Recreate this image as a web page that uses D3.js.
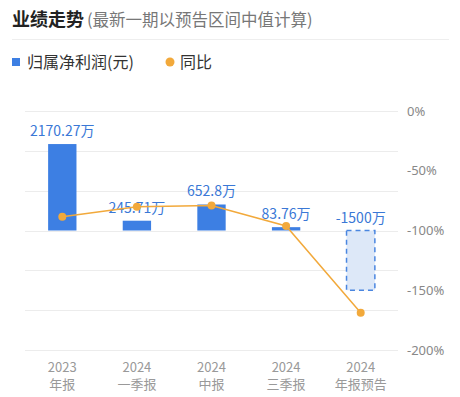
<!DOCTYPE html>
<html>
  <head>
    <meta charset="utf-8">
    <title>业绩走势</title>
    <script src="https://d3js.org/d3.v7.min.js"></script>
    <style>
      body { margin: 0; background: #fff; }
      svg { font-family: "Noto Sans CJK SC", "Noto Sans", sans-serif; }
    </style>
  </head>
  <body>
    <div id="chart"></div>
    <script>
      // data
      var years = ["2023", "2024", "2024", "2024", "2024"];
      var periods = ["年报", "一季报", "中报", "三季报", "年报预告"];
      var profit = [2170.27, 245.71, 652.8, 83.76, -1500];   // 万元
      var profitLabels = ["2170.27万", "245.71万", "652.8万", "83.76万", "-1500万"];
      var yoy = [-88.4, -80.1, -79.0, -96.2, -168.8];         // %
      var yoyTicks = [0, -50, -100, -150, -200];
      var forecastIndex = 4;

      var width = 460, height = 397;
      var blue = "#3d7fe3", orange = "#f2a93b";

      var svg = d3.select("#chart").append("svg")
        .attr("width", width)
        .attr("height", height);

      // title
      var title = svg.append("text")
        .attr("x", 12)
        .attr("y", 26);
      title.append("tspan")
        .attr("font-size", 18)
        .attr("font-weight", "bold")
        .attr("fill", "#222")
        .text("业绩走势");
      title.append("tspan")
        .attr("dx", 3)
        .attr("font-size", 16.5)
        .attr("fill", "#777")
        .text("(最新一期以预告区间中值计算)");
      svg.append("line")
        .attr("x1", 12).attr("x2", 449)
        .attr("y1", 39.5).attr("y2", 39.5)
        .attr("stroke", "#eeeeee");

      // legend
      svg.append("rect")
        .attr("x", 12).attr("y", 58)
        .attr("width", 8).attr("height", 8)
        .attr("fill", blue);
      svg.append("text")
        .attr("x", 27).attr("y", 68)
        .attr("font-size", 16).attr("fill", "#333")
        .text("归属净利润(元)");
      svg.append("circle")
        .attr("cx", 170).attr("cy", 62).attr("r", 4.5)
        .attr("fill", orange);
      svg.append("text")
        .attr("x", 180).attr("y", 68)
        .attr("font-size", 16).attr("fill", "#333")
        .text("同比");

      // scales
      var plotLeft = 25, plotRight = 398, plotTop = 111, plotBottom = 350;
      var x = d3.scaleBand()
        .domain(d3.range(profit.length))
        .range([plotLeft, plotRight])
        .paddingInner(0.62)
        .paddingOuter(0.31);
      var xc = function(d, i) { return x(i) + x.bandwidth() / 2; };
      var yL = d3.scaleLinear().domain([-3000, 3000]).range([plotBottom, plotTop]);
      var yR = d3.scaleLinear().domain([-200, 0]).range([plotBottom, plotTop]);

      // gridlines
      svg.append("g")
        .selectAll("line")
        .data(yL.ticks(6))
        .enter().append("line")
          .attr("x1", plotLeft).attr("x2", plotRight)
          .attr("y1", function(d) { return Math.round(yL(d)) + 0.5; })
          .attr("y2", function(d) { return Math.round(yL(d)) + 0.5; })
          .attr("stroke", "#ececec");

      // right axis
      var rAxis = svg.append("g")
        .attr("transform", "translate(" + (plotRight + 2) + ",0)")
        .call(d3.axisRight(yR).tickValues(yoyTicks).tickSize(0).tickPadding(7)
          .tickFormat(function(d) { return d + "%"; }));
      rAxis.select(".domain").remove();
      rAxis.selectAll("text")
        .attr("font-size", 13)
        .attr("fill", "#888")
        .attr("font-family", "\"Noto Sans\", sans-serif");

      // bars
      svg.append("g")
        .selectAll("rect")
        .data(profit)
        .enter().append("rect")
          .attr("x", function(d, i) { return x(i); })
          .attr("y", function(d) { return yL(Math.max(0, d)); })
          .attr("width", x.bandwidth())
          .attr("height", function(d) { return Math.abs(yL(d) - yL(0)); })
          .attr("fill", function(d, i) { return i == forecastIndex ? "#dde8f8" : blue; })
          .attr("stroke", function(d, i) { return i == forecastIndex ? "#4a86e0" : "none"; })
          .attr("stroke-width", 1.5)
          .attr("stroke-dasharray", function(d, i) { return i == forecastIndex ? "5,4" : null; });

      // bar labels
      svg.append("g")
        .selectAll("text")
        .data(profit)
        .enter().append("text")
          .attr("x", xc)
          .attr("y", function(d) { return yL(Math.max(0, d)) - 8; })
          .attr("text-anchor", "middle")
          .attr("font-size", 14)
          .attr("fill", "#3a78d6")
          .text(function(d, i) { return profitLabels[i]; });

      // yoy line
      var line = d3.line()
        .x(function(d, i) { return xc(d, i); })
        .y(function(d) { return yR(d); });
      svg.append("path")
        .datum(yoy)
        .attr("d", line)
        .attr("fill", "none")
        .attr("stroke", orange)
        .attr("stroke-width", 1.5);
      svg.append("g")
        .selectAll("circle")
        .data(yoy)
        .enter().append("circle")
          .attr("cx", xc)
          .attr("cy", function(d) { return yR(d); })
          .attr("r", 4)
          .attr("fill", orange);

      // category labels
      var cats = svg.append("g")
        .selectAll("text")
        .data(years)
        .enter().append("text")
          .attr("text-anchor", "middle")
          .attr("font-size", 13)
          .attr("fill", "#999");
      cats.append("tspan")
        .attr("x", xc)
        .attr("y", 372)
        .text(function(d) { return d; });
      cats.append("tspan")
        .attr("x", xc)
        .attr("y", 389)
        .text(function(d, i) { return periods[i]; });
    </script>
  </body>
</html>
